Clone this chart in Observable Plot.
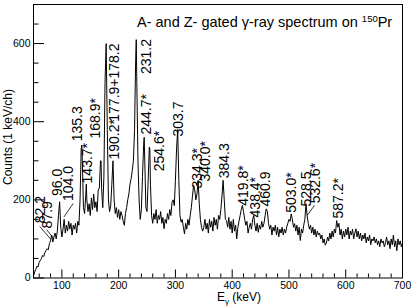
<!DOCTYPE html>
<html><head><meta charset="utf-8">
<script src="https://cdn.jsdelivr.net/npm/d3@7"></script>
<script src="https://cdn.jsdelivr.net/npm/@observablehq/plot@0.6"></script>
<style>body{margin:0;background:#fff}svg{display:block}</style>
</head><body><div id="chart"></div>
<script>
// gamma-ray energies (keV) of the spectrum points
const spectrumE = [
  50,52,54,56,58,60,62,64,66,68,
  70,72,74,76,78,80,82,84,86,88,
  90,92,94,96,98,100,102,104,106,108,
  110,112,114,116,118,120,122,124,126,128,
  130,132,134,135,136,138,140,142,143,144,
  146,148,150,152,154,156,158,160,162,164,
  166,168,169,170,172,174,176,178,180,182,
  184,186,188,190,192,194,196,198,200,202,
  204,206,208,210,212,214,216,218,220,222,
  224,226,228,230,231,232,234,236,238,240,
  242,244,245,246,248,250,252,254,255,256,
  258,260,262,264,266,268,270,272,274,276,
  278,280,282,284,286,288,290,292,294,296,
  298,300,302,304,306,308,310,312,314,316,
  318,320,322,324,326,328,330,332,334,336,
  338,340,342,344,346,348,350,352,354,356,
  358,360,362,364,366,368,370,372,374,376,
  378,380,382,384,386,388,390,392,394,396,
  398,400,402,404,406,408,410,412,414,416,
  418,420,422,424,426,428,430,432,434,436,
  438,440,442,444,446,448,450,452,454,456,
  458,460,462,464,466,468,470,472,474,476,
  478,480,482,484,486,488,490,492,494,496,
  498,500,502,504,506,508,510,512,514,516,
  518,520,522,524,526,528,530,532,534,536,
  538,540,542,544,546,548,550,552,554,556,
  558,560,562,564,566,568,570,572,574,576,
  578,580,582,584,586,588,590,592,594,596,
  598,600,602,604,606,608,610,612,614,616,
  618,620,622,624,626,628,630,632,634,636,
  638,640,642,644,646,648,650,652,654,656,
  658,660,662,664,666,668,670,672,674,676,
  678,680,682,684,686,688,690,692,694,696,
  698,700
];
// counts per 1 keV channel
const spectrumC = [
  5,15,22,30,28,40,45,50,58,55,
  65,70,75,72,88,95,110,92,105,115,
  100,120,160,195,130,105,125,150,115,135,
  120,145,125,140,110,135,125,140,115,145,
  135,200,330,340,300,180,165,210,240,200,
  170,190,160,205,175,215,180,195,170,225,
  230,300,300,230,180,260,500,600,380,200,
  170,185,240,300,200,165,180,155,175,150,
  170,160,145,135,165,180,200,215,240,255,
  275,300,380,560,610,500,300,200,150,175,
  260,340,360,300,180,170,250,335,330,240,
  160,140,165,150,175,140,160,150,170,140,
  155,126,150,140,165,150,175,160,194,200,
  185,250,330,380,250,160,143,150,130,113,
  140,125,150,135,160,180,210,237,225,200,
  215,250,190,150,130,120,130,150,125,140,
  115,150,130,145,120,155,135,150,125,160,
  150,175,210,250,200,150,147,130,155,125,
  145,115,150,120,135,100,130,145,160,175,
  186,170,150,135,145,115,130,140,125,150,
  160,135,120,140,117,135,125,145,130,140,
  160,177,170,140,125,135,110,130,120,135,
  110,130,105,125,115,130,110,125,115,130,
  140,150,145,164,150,130,139,120,135,110,
  130,96,125,115,135,150,190,160,140,125,
  135,115,130,110,125,105,120,110,115,100,
  110,90,100,84,90,105,95,115,100,120,
  105,125,115,147,130,140,110,125,100,120,
  105,125,110,130,100,120,110,125,100,115,
  126,105,120,100,115,95,110,100,115,90,
  105,95,110,85,100,95,105,90,100,85,
  95,80,100,90,95,80,90,105,85,95,
  75,100,85,110,80,95,70,100,85,95,
  80,90
];
// peak labels: text, anchor energy (keV), anchor counts (label foot)
const peakText = ["82.2","87.9","96.0","104.0","135.3","143.7*","168.9*","190.2*","177.9+178.2",
  "231.2","244.7*","254.6*","303.7","334.3*","340.0*","384.3","419.8*","438.4*","460.9",
  "503.0*","528.5","532.6*","587.2*"];
const peakLabelE = [62,74.7,92.3,111.7,127.5,145,159.2,192.7,192.7,
  249,249,272,305.4,339,353,386.4,420,441,459.5,
  504.5,531.8,547.6,587.3];
const peakLabelC = [140,127,210,197,350,242,357,303,400,
  522,367,273,362,229,247,255,185,155,183,
  167,183,191,152];
// leader lines from label to peak: [E1, C1, E2, C2]
const leaders = [
  [61,132,80,100],
  [73,124,86,100],
  [120,191,103.5,156],
  [545,186,532,160]
];
const xMajor = [100,200,300,400,500,600,700];
const xMinor = [60,80,120,140,160,180,220,240,260,280,320,340,360,380,420,440,460,480,520,540,560,580,620,640,660,680];
const yMajor = [0,200,400,600];
const yMinor = [50,100,150,250,300,350,450,500,550,650];

const W = 415, H = 306, mL = 33, mR = 13, mT = 4, mB = 28.5;
const xDom = [50, 700], yDom = [0, 700];
const keVperPx = (xDom[1]-xDom[0])/(W-mL-mR);
const cntPerPx = (yDom[1]-yDom[0])/(H-mT-mB);

const spectrum = spectrumE.map((e,i)=>({e, c: spectrumC[i]}));
const labels = peakText.map((t,i)=>({t, e: peakLabelE[i], c: peakLabelC[i]}));
const font = "Liberation Sans, Arial, Helvetica, sans-serif";

const chart = Plot.plot({
  width: W, height: H,
  marginLeft: mL, marginRight: mR, marginTop: mT, marginBottom: mB,
  style: {fontFamily: font, color: "black", background: "white"},
  x: {domain: xDom},
  y: {domain: yDom},
  marks: [
    Plot.ruleX(xMajor, {x: d=>d, y1: 0, y2: 8*cntPerPx, stroke: "black"}),
    Plot.ruleX(xMinor, {x: d=>d, y1: 0, y2: 4*cntPerPx, stroke: "black"}),
    Plot.ruleY(yMajor, {y: d=>d, x1: xDom[0], x2: xDom[0]+11*keVperPx, stroke: "black"}),
    Plot.ruleY(yMinor, {y: d=>d, x1: xDom[0], x2: xDom[0]+5.5*keVperPx, stroke: "black"}),
    Plot.line(spectrum, {x: "e", y: "c", stroke: "black", strokeWidth: 1}),
    Plot.link(leaders, {x1: d=>d[0], y1: d=>d[1], x2: d=>d[2], y2: d=>d[3], stroke: "black", strokeWidth: 0.8}),
    Plot.text(labels, {x: "e", y: "c", text: "t", rotate: -90, textAnchor: "start", fontSize: 14, fill: "black", ariaLabel: "peak-labels"}),
    Plot.frame({stroke: "black"}),
    Plot.axisX(xMajor, {tickSize: 0, tickPadding: 4, fontSize: 10.5, label: null}),
    Plot.axisY(yMajor, {tickSize: 0, tickPadding: 3, fontSize: 10.5, label: null})
  ]
});
document.getElementById("chart").appendChild(chart);

const svg = d3.select(chart);
// widen label lettering to match the reference's wide sans face
svg.selectAll('g[aria-label="peak-labels"] text').attr("letter-spacing", 1.1);
// title
const title = svg.append("text").attr("x", 137).attr("y", 27).attr("text-anchor", "start")
  .attr("font-family", font).attr("font-size", 14.5).attr("fill", "black");
title.append("tspan").text("A- and Z- gated γ-ray spectrum on ");
title.append("tspan").attr("font-size", 9.5).attr("dy", -5.5).text("150");
title.append("tspan").attr("dy", 5.5).text("Pr");
// x label
const xl = svg.append("text").attr("x", 239).attr("y", 301).attr("text-anchor", "middle")
  .attr("font-family", font).attr("font-size", 12).attr("fill", "black");
xl.append("tspan").text("E");
xl.append("tspan").attr("font-size", 8).attr("dy", 3).text("γ");
xl.append("tspan").attr("dy", -3).text(" (keV)");
// y label
svg.append("text").attr("transform", "translate(11.5,137) rotate(-90)").attr("text-anchor", "middle")
  .attr("font-family", font).attr("font-size", 12).attr("fill", "black")
  .text("Counts (1 keV/ch)");
</script>
</body></html>
